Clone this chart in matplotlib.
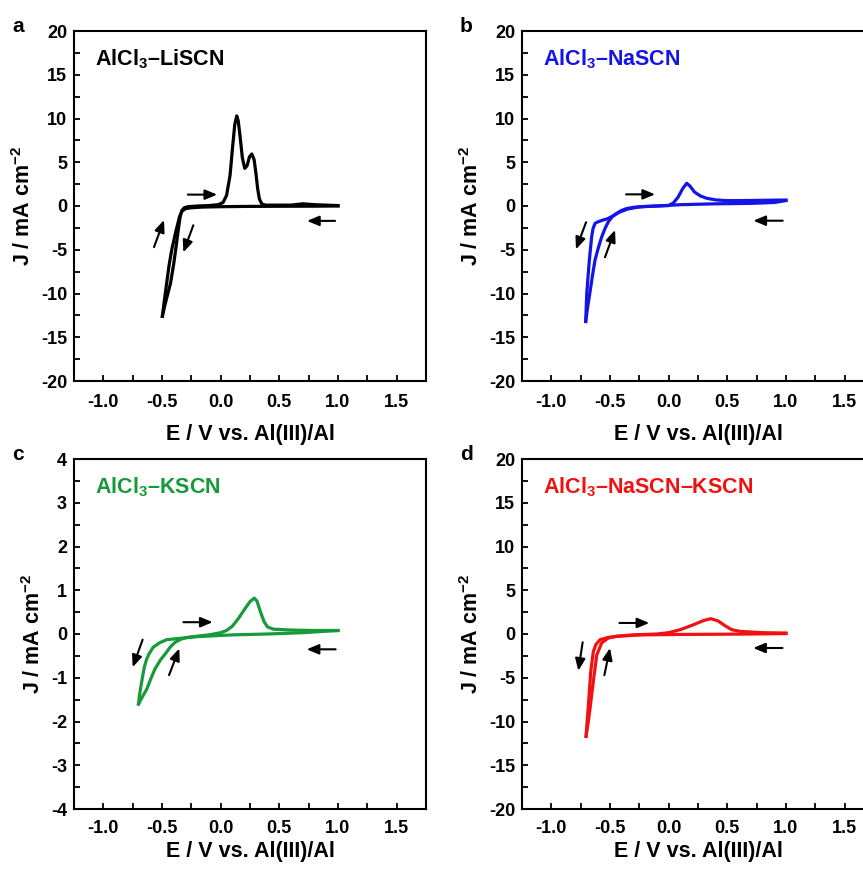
import matplotlib
matplotlib.use('Agg')
import matplotlib.pyplot as plt
from matplotlib.ticker import MultipleLocator, FormatStrFormatter

plt.rcParams['font.family'] = ['Liberation Sans', 'DejaVu Sans']
plt.rcParams['font.weight'] = 'bold'
plt.rcParams['axes.unicode_minus'] = False
plt.rcParams['mathtext.fontset'] = 'custom'
plt.rcParams['mathtext.rm'] = 'Liberation Sans:bold'
plt.rcParams['mathtext.bf'] = 'Liberation Sans:bold'
plt.rcParams['mathtext.default'] = 'bf'

# ---- data (E in V, J in mA cm-2) ----
# panel a: AlCl3-LiSCN
a_fwd_x = [1.0, 0.8, 0.5, 0.2, 0.0, -0.15, -0.25, -0.30, -0.33, -0.35, -0.38, -0.417, -0.44, -0.46, -0.48, -0.497]
a_fwd_y = [0.0, -0.02, -0.03, -0.05, -0.08, -0.12, -0.2, -0.3, -0.6, -1.2, -2.8, -5.0, -6.8, -8.8, -10.8, -12.6]
a_ret_x = [-0.497, -0.475, -0.45, -0.427, -0.40, -0.38, -0.36, -0.345, -0.33, -0.31, -0.28, -0.2, -0.1, -0.02,
           0.02, 0.05, 0.08, 0.10, 0.12, 0.137, 0.15, 0.165, 0.185, 0.205, 0.225, 0.245, 0.265, 0.285, 0.30,
           0.315, 0.33, 0.35, 0.38, 0.6, 0.7, 0.8, 1.0]
a_ret_y = [-12.6, -11.3, -10.0, -8.8, -6.6, -4.65, -2.6, -1.2, -0.5, -0.2, -0.08, 0.0, 0.05, 0.15,
           0.4, 1.2, 3.5, 6.5, 9.3, 10.3, 9.7, 8.0, 5.5, 4.3, 4.6, 5.6, 5.95, 5.3, 3.8,
           2.0, 0.8, 0.25, 0.1, 0.1, 0.25, 0.15, 0.05]

# panel b: AlCl3-NaSCN
b_fwd_x = [1.0, 0.9, 0.7, 0.4, 0.1, -0.1, -0.25, -0.35, -0.42, -0.47, -0.52, -0.57, -0.61, -0.628, -0.645,
           -0.656, -0.666, -0.676, -0.688, -0.698, -0.707]
b_fwd_y = [0.62, 0.4, 0.3, 0.25, 0.15, 0.0, -0.1, -0.35, -0.7, -1.1, -1.45, -1.65, -1.85, -2.0, -2.6,
           -3.5, -4.8, -6.2, -8.2, -10.0, -13.2]
b_ret_x = [-0.707, -0.69, -0.67, -0.65, -0.628, -0.60, -0.57, -0.54, -0.514, -0.48, -0.443, -0.40, -0.36,
           -0.3, -0.2, 0.0, 0.04, 0.08, 0.12, 0.154, 0.18, 0.22, 0.27, 0.325, 0.4, 0.495, 0.7, 0.9, 1.0]
b_ret_y = [-13.2, -11.5, -9.8, -8.0, -6.2, -4.8, -3.5, -2.5, -1.8, -1.2, -0.84, -0.5, -0.3,
           -0.15, -0.05, 0.05, 0.35, 1.0, 2.0, 2.6, 2.3, 1.6, 1.15, 0.88, 0.7, 0.61, 0.63, 0.67, 0.68]

# panel c: AlCl3-KSCN
c_fwd_x = [1.0, 0.7, 0.4, 0.1, -0.2, -0.35, -0.46, -0.52, -0.574, -0.61, -0.63, -0.65, -0.664, -0.68, -0.693, -0.70]
c_fwd_y = [0.08, 0.03, 0.0, -0.02, -0.06, -0.1, -0.13, -0.2, -0.3, -0.45, -0.57, -0.75, -0.95, -1.2, -1.42, -1.6]
c_ret_x = [-0.70, -0.67, -0.63, -0.595, -0.56, -0.515, -0.474, -0.43, -0.389, -0.34, -0.29, -0.2, -0.1, 0.0,
           0.05, 0.1, 0.15, 0.2, 0.25, 0.287, 0.31, 0.34, 0.37, 0.40, 0.45, 0.6, 0.8, 1.0]
c_ret_y = [-1.6, -1.45, -1.26, -1.02, -0.8, -0.6, -0.46, -0.3, -0.19, -0.12, -0.08, -0.05, -0.02, 0.03,
           0.08, 0.18, 0.35, 0.55, 0.74, 0.82, 0.75, 0.5, 0.28, 0.16, 0.11, 0.09, 0.08, 0.08]

# panel d: AlCl3-NaSCN-KSCN
d_fwd_x = [1.0, 0.7, 0.4, 0.1, -0.244, -0.443, -0.52, -0.585, -0.62, -0.642, -0.664, -0.684, -0.704]
d_fwd_y = [0.05, 0.0, -0.03, -0.05, -0.1, -0.27, -0.4, -0.65, -1.2, -2.0, -4.3, -8.1, -11.7]
d_ret_x = [-0.704, -0.685, -0.67, -0.642, -0.613, -0.57, -0.514, -0.44, -0.3, -0.1, 0.0, 0.1, 0.2, 0.3,
           0.359, 0.42, 0.48, 0.538, 0.609, 0.8, 1.0]
d_ret_y = [-11.7, -10.0, -8.5, -5.4, -2.4, -1.0, -0.46, -0.25, -0.1, 0.0, 0.15, 0.5, 1.0, 1.55,
           1.75, 1.5, 0.95, 0.49, 0.3, 0.15, 0.11]

# scan-direction arrows (x0, y0, x1, y1) in data units
a_arrows = [(-0.28, 1.3, -0.03, 1.3), (0.975, -1.7, 0.736, -1.7),
            (-0.568, -4.7, -0.483, -1.6), (-0.233, -2.2, -0.318, -5.3)]
b_arrows = [(-0.363, 1.33, -0.116, 1.33), (0.972, -1.68, 0.722, -1.68),
            (-0.704, -1.86, -0.79, -4.95), (-0.543, -5.86, -0.457, -2.74)]
c_arrows = [(-0.318, 0.27, -0.068, 0.27), (0.98, -0.35, 0.733, -0.35),
            (-0.665, -0.13, -0.75, -0.76), (-0.44, -0.94, -0.352, -0.33)]
d_arrows = [(-0.42, 1.26, -0.165, 1.26), (0.97, -1.6, 0.72, -1.6),
            (-0.733, -0.95, -0.77, -4.2), (-0.548, -4.7, -0.5, -1.6)]

names = ['AlCl$_3$\u2013LiSCN', 'AlCl$_3$\u2013NaSCN', 'AlCl$_3$\u2013KSCN', 'AlCl$_3$\u2013NaSCN\u2013KSCN']
colors = ['black', '#1414E6', '#179A3A', '#F01212']
letters = ['a', 'b', 'c', 'd']

panels = [
    (a_fwd_x, a_fwd_y, a_ret_x, a_ret_y, a_arrows, 20, 5),
    (b_fwd_x, b_fwd_y, b_ret_x, b_ret_y, b_arrows, 20, 5),
    (c_fwd_x, c_fwd_y, c_ret_x, c_ret_y, c_arrows, 4, 1),
    (d_fwd_x, d_fwd_y, d_ret_x, d_ret_y, d_arrows, 20, 5),
]

W, H = 863, 869
fig = plt.figure(figsize=(W / 100, H / 100), dpi=100)
boxes = [(74, 31), (522, 31), (74, 459), (522, 459)]  # left, top in px
aw, ah = 352, 350
xpads = [9, 9, 3, 3]

for i, (fx, fy, rx, ry, arrows, ylim, ymaj) in enumerate(panels):
    left, top = boxes[i]
    ax = fig.add_axes([left / W, (H - top - ah) / H, aw / W, ah / H])
    ax.plot(fx, fy, color=colors[i], lw=2.3, solid_joinstyle='round')
    ax.plot(rx, ry, color=colors[i], lw=2.3, solid_joinstyle='round')
    for x0, y0, x1, y1 in arrows:
        ax.annotate('', xy=(x1, y1), xytext=(x0, y0),
                    arrowprops=dict(arrowstyle='-|>,head_length=0.6,head_width=0.25',
                                    lw=1.5, color='k', shrinkA=0, shrinkB=0,
                                    mutation_scale=12))
    ax.set_xlim(-1.25, 1.75)
    ax.set_ylim(-ylim, ylim)
    ax.xaxis.set_major_locator(MultipleLocator(0.5))
    ax.xaxis.set_minor_locator(MultipleLocator(0.25))
    ax.xaxis.set_major_formatter(FormatStrFormatter('%.1f'))
    ax.yaxis.set_major_locator(MultipleLocator(ymaj))
    ax.yaxis.set_minor_locator(MultipleLocator(ymaj / 2))
    ax.yaxis.set_major_formatter(FormatStrFormatter('%d'))
    ax.tick_params(which='both', direction='in', length=4.5, width=1.3, labelsize=13)
    ax.tick_params(axis='x', which='major', pad=9.5 if i < 2 else 8)
    ax.tick_params(axis='y', which='major', pad=5)
    for s in ax.spines.values():
        s.set_linewidth(1.5)
    for lab in ax.get_xticklabels() + ax.get_yticklabels():
        lab.set_fontweight('bold')
    ax.set_xlabel('E / V vs. Al(III)/Al', fontsize=15.5, fontweight='bold', labelpad=xpads[i])
    ax.set_ylabel('J / mA cm$^{-2}$', fontsize=15.5, fontweight='bold', labelpad=4)
    ax.text(0.06, 0.92, names[i], transform=ax.transAxes, color=colors[i],
            fontsize=15.5, fontweight='bold', ha='left', va='center')
    fig.text((left - 62) / W, 1 - (top - 5) / H, letters[i], fontsize=15,
             fontweight='bold', ha='left', va='center')

fig.savefig('out.png', dpi=100)
